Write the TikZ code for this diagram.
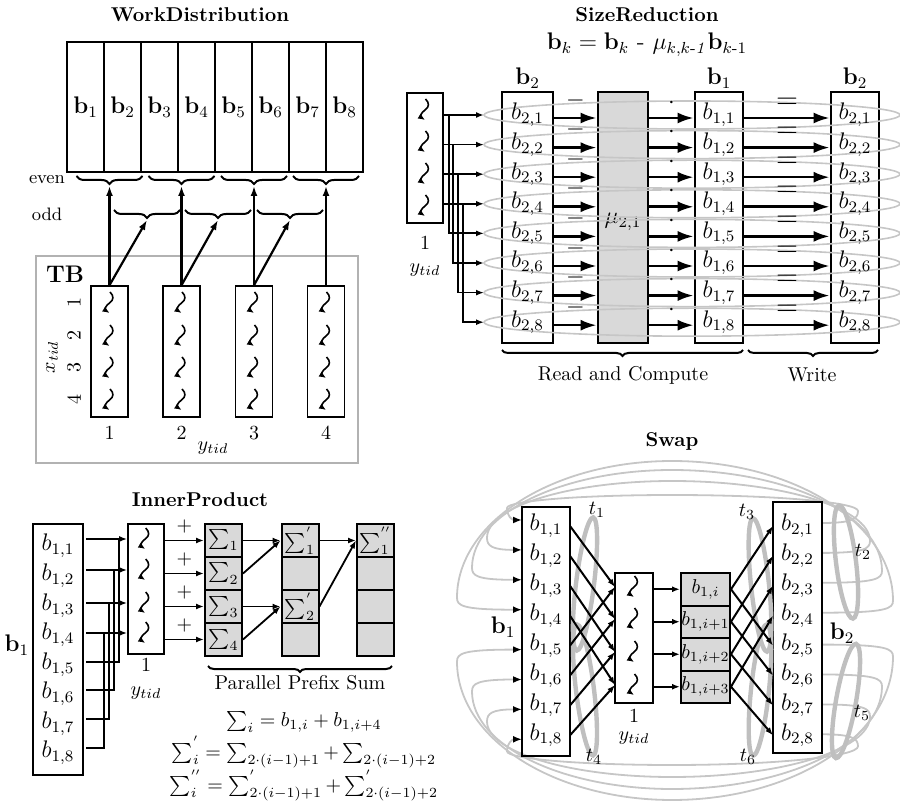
\documentclass[tikz,border=0pt]{standalone}
\usepackage{amsmath}
\usetikzlibrary{arrows.meta,decorations.pathreplacing,calc}
\tikzset{
  box/.style={draw,line width=0.8pt,inner sep=0pt},
  column/.style={draw,line width=1.4pt,inner sep=0pt},
  cell/.style={draw,line width=1pt,fill=gray!30,inner sep=0pt},
  ttl/.style={font=\bfseries},
  sarrow/.style={-{Latex[length=4pt,width=3pt]},line width=0.9pt},
  warrow/.style={-{Latex[length=5pt,width=3.5pt]},line width=1.1pt},
  barrow/.style={-{Latex[length=8pt,width=5.5pt]},line width=1.3pt},
  loopline/.style={gray!45,line width=0.9pt,-{Latex[length=4.5pt,width=3.5pt,black]}},
  ring/.style={gray!50,line width=2.2pt},
  rowring/.style={gray!45,line width=0.8pt},
  brc/.style={decorate,decoration={brace,amplitude=4pt,mirror},line width=1pt},
  eqn/.style={inner sep=0pt},
  pics/thread/.style={code={\draw[-{Latex[length=3.5pt,width=3pt]},line width=0.8pt]
     (0.5,-11) .. controls (4.5,-7) and (4.5,-3) .. (0,0) .. controls (-4.5,3) and (-4.5,7) .. (0,10);}}
}
\begin{document}
\begin{tikzpicture}[x=0.5pt,y=-0.5pt,>=latex]
\useasboundingbox (0,0) rectangle (900,807);

% WorkDistribution
\node[ttl] (wdtitle) at (200,15) {WorkDistribution};
\foreach \i in {1,...,8}
  \node[box,line width=1pt,minimum width=18.5pt,minimum height=65pt,font=\large] (wb\i) at ({48.5+37*\i},107) {$\mathbf{b}_{\i}$};
\node[font=\small] (even) at (47,180) {even};
\node[font=\small] (odd) at (47,214) {odd};
\draw[gray!60,line width=1.2pt] (36,256) rectangle (358,463);
\node[font=\large\bfseries] (tb) at (65,274) {TB};
\foreach \i/\x in {1/109.5,2/181.5,3/254,4/326}{
  \node[box,minimum width=18.5pt,minimum height=65.5pt] (wt\i) at (\x,351.5) {};
  \foreach \y in {303,336,368,400} \pic at (\x,\y) {thread};
  \node (wn\i) at (\x,433) {\i};
  \draw[brc] ({\x-33},176) -- ({\x+33},176);
  \coordinate (ev\i) at (\x,186);
  \draw[warrow] (wt\i.north) -- (ev\i);
}
\foreach \i/\x in {1/147,2/218,3/290}{
  \draw[brc] ({\x-33},210) -- ({\x+33},210);
  \coordinate (od\i) at (\x,220);
  \draw[warrow] (wt\i.north) -- (od\i);
}
\node[rotate=90] (xtid) at (52,357) {$x_{tid}$};
\foreach \i/\y in {1/303,2/336,3/368,4/400} \node[rotate=90] (wx\i) at (74,\y) {\i};
\node (wytid) at (213,448) {$y_{tid}$};

% SizeReduction
\node[ttl] (srtitle) at (647,15) {SizeReduction};
\node[font=\large] (sreq) at (647,45) {$\mathbf{b}_k = \mathbf{b}_k$ - $\mu_{k,k\text{-}\mathit{1}}\mathbf{b}_{k\text{-}1}$};
\node[column,minimum width=25.5pt,minimum height=125.5pt] (srb2a) at (527.5,217.5) {};
\node[column,fill=gray!30,minimum width=25pt,minimum height=125.5pt] (srmu) at (623,217.5) {};
\node[column,minimum width=24pt,minimum height=125.5pt] (srb1) at (719,217.5) {};
\node[column,minimum width=24pt,minimum height=125.5pt] (srb2b) at (855,217.5) {};
\node[font=\large] (srla) at (527.5,78) {$\mathbf{b}_2$};
\node[font=\large] (srlb) at (719,78) {$\mathbf{b}_1$};
\node[font=\large] (srlc) at (855,78) {$\mathbf{b}_2$};
\node[font=\large] (srmul) at (623,222) {$\mu_{2,1}$};
\foreach \i in {1,...,8}{
  \pgfmathsetmacro\y{115+29.6*(\i-1)}
  \draw[rowring] (692,\y) ellipse [x radius=208,y radius=14];
  \node[font=\large] (sra\i) at (527.5,\y) {$b_{2,\i}$};
  \node[font=\large] (src\i) at (719,\y) {$b_{1,\i}$};
  \node[font=\large] (srd\i) at (855,\y) {$b_{2,\i}$};
  \coordinate (srr\i) at (0,{\y+3});
  \coordinate (sre\i) at (484,\y);
  \draw[barrow] (srb2a.east |- srr\i) -- node[above=1pt,font=\large] {$-$} (srmu.west |- srr\i);
  \draw[barrow] (srmu.east |- srr\i) -- node[above=1pt,font=\large] {$\cdot$} (srb1.west |- srr\i);
  \draw[barrow] (srb1.east |- srr\i) -- node[above=1pt,font=\Large] {$=$} (srb2b.west |- srr\i);
}
\node[box,minimum width=18pt,minimum height=65pt] (srthr) at (425,158) {};
\foreach \y in {110,142,174,206} \pic at (425,\y) {thread};
\node (srone) at (425,243) {1};
\node (srytid) at (425,270) {$y_{tid}$};
\foreach \i/\x in {1/449,2/453,3/458,4/463}{
  \pgfmathtruncatemacro\j{\i+4}
  \coordinate (srv\i) at (\x,0);
  \draw[sarrow] (srthr.east |- sre\i) -- (sre\i);
  \draw[sarrow] (srv\i |- sre\i) |- (sre\j);
}
\draw[brc,decoration={amplitude=3pt}] (502,350) -- (743,350);
\node (srread) at (623,375) {Read and Compute};
\draw[brc,decoration={amplitude=3pt}] (748,350) -- (878,350);
\node (srwrite) at (812,375) {Write};

% InnerProduct
\node[ttl] (iptitle) at (200,500) {InnerProduct};
\node[column,line width=1.2pt,minimum width=25pt,minimum height=125.5pt] (ipb1) at (58,649.5) {};
\node[font=\large] (ipb) at (17,645) {$\mathbf{b}_1$};
\foreach \i/\t/\l in {1/546/539,2/576/570,3/606/603,4/635/633,5/665/662,6/694/690,7/724/719,8/753/748}{
  \node[font=\large] (ipr\i) at (58,\t) {$b_{1,\i}$};
  \coordinate (ipl\i) at (86,\l);
}
\node[box,minimum width=18pt,minimum height=65pt] (ipthr) at (146,589) {};
\node (ipone) at (146,665) {1};
\node (ipytid) at (146,693) {$y_{tid}$};
\foreach \c/\x in {1/223.5,2/300,3/375.5}
  \foreach \r/\y in {1/540.5,2/573.5,3/606.5,4/639.5}
    \node[cell,minimum width=18.5pt,minimum height=16.5pt] (p\c\r) at (\x,\y) {};
\foreach \i in {1,...,4}{
  \draw[sarrow,line width=1pt] (ipl\i) -- (ipthr.west |- ipl\i);
  \path (ipl\i) -- (ipthr.west |- ipl\i) coordinate[pos=1] (ipt\i);
  \pic at ($(ipt\i)+(18,0)$) {thread};
  \draw[sarrow] (ipthr.east |- p1\i.west) -- node[above=0pt] {$+$} (p1\i.west);
  \node (s1\i) at (p1\i) {$\sum_\i$};
}
\foreach \i/\x in {5/119,6/114,7/109,8/104}{
  \pgfmathtruncatemacro\j{\i-4}
  \coordinate (ipv\i) at (\x,0);
  \draw[line width=1pt] (ipl\i) -| (ipv\i |- ipl\j);
}
\node (s21) at (p21) {$\sum^{'}_1$};
\node (s23) at (p23) {$\sum^{'}_2$};
\node (s31) at (p31) {$\sum^{''}_1$};
\draw[sarrow] (p11.east) -- (p21.west);
\draw[sarrow] (p12.east) -- (p21.west);
\draw[sarrow] (p13.east) -- (p23.west);
\draw[sarrow] (p14.east) -- (p23.west);
\draw[sarrow] (p21.east) -- (p31.west);
\draw[sarrow] (p23.east) -- (p31.west);
\draw[brc,decoration={amplitude=3pt}] (208,666) -- (392,666);
\node[eqn] (pps) at (300,683) {Parallel Prefix Sum};
\node[eqn,align=center] (eqs) at (304,756) {$\sum_i = b_{1,i} + b_{1,i+4}$\\[1pt]
  $\sum^{'}_i = \sum_{2\cdot(i-1)+1} + \sum_{2\cdot(i-1)+2}$\\[0pt]
  $\sum^{''}_i = \sum^{'}_{2\cdot(i-1)+1} + \sum^{'}_{2\cdot(i-1)+2}$};

% Swap
\node[ttl] (swtitle) at (672,441) {Swap};
\foreach \i/\H/\R/\L in {1/495/858/507,2/481/870/487,3/470/882/472,4/461/893/457}{
  \pgfmathsetmacro\e{526+29.9*(\i-1)-3}
  \pgfmathsetmacro\f{526+29.9*(\i-1)-6}
  \draw[loopline] (822,\e) .. controls ({\R-6},\e) and (\R,{\e-4}) .. (\R,{\e-12})
     .. controls (\R,{\e-12-0.552*(\e-12-\H)}) and ({672+0.552*(\R-672)},\H) .. (672,\H)
     .. controls ({672-0.552*(672-\L)},\H) and (\L,{\f-12-0.552*(\f-12-\H)}) .. (\L,{\f-12})
     .. controls (\L,{\f-4}) and ({\L+5},\f) .. (522,\f);
}
\foreach \i/\B/\R/\L in {8/765/858/507,7/777/870/487,6/789/882/472,5/800/893/457}{
  \pgfmathsetmacro\e{526+29.9*(\i-1)-1}
  \pgfmathsetmacro\f{526+29.9*(\i-1)+4}
  \draw[loopline] (822,\e) .. controls ({\R-6},\e) and (\R,{\e+4}) .. (\R,{\e+12})
     .. controls (\R,{\e+12+0.552*(\B-\e-12)}) and ({672+0.552*(\R-672)},\B) .. (672,\B)
     .. controls ({672-0.552*(672-\L)},\B) and (\L,{\f+12+0.552*(\B-\f-12)}) .. (\L,{\f+12})
     .. controls (\L,{\f+4}) and ({\L+5},\f) .. (522,\f);
}
\node[column,line width=1.2pt,minimum width=24pt,minimum height=124.5pt] (swb1) at (546,631.5) {};
\node[column,line width=1.2pt,minimum width=24.5pt,minimum height=125.5pt] (swb2) at (797.5,627.5) {};
\node[font=\large] (swlb1) at (503,627) {$\mathbf{b}_1$};
\node[font=\large] (swlb2) at (842,633) {$\mathbf{b}_2$};
\draw[ring,rotate around={-7:(585,584)}] (585,584) ellipse [x radius=9,y radius=67];
\draw[ring,rotate around={7:(585,690)}] (585,690) ellipse [x radius=9,y radius=66];
\draw[ring,rotate around={6:(760,585)}] (760,585) ellipse [x radius=9,y radius=67];
\draw[ring,rotate around={-6:(760,690)}] (760,690) ellipse [x radius=9,y radius=66];
\draw[ring,rotate around={7:(846,562)}] (846,562) ellipse [x radius=10,y radius=57];
\draw[ring,rotate around={-10:(846,701)}] (846,701) ellipse [x radius=10,y radius=58];
\node (t1) at (597,510) {$t_1$};
\node (t3) at (747,512) {$t_3$};
\node (t2) at (863,552) {$t_2$};
\node (t4) at (594,757) {$t_4$};
\node (t6) at (748,757) {$t_6$};
\node (t5) at (862,713) {$t_5$};
\foreach \i in {1,...,8}{
  \pgfmathsetmacro\y{526+29.9*(\i-1)}
  \node[font=\large] (swl\i) at (546,\y) {$b_{1,\i}$};
  \node[font=\large] (swr\i) at (797.5,\y) {$b_{2,\i}$};
  \coordinate (swa\i) at (570,\y);
  \coordinate (swc\i) at (773,\y);
}
\node[box,minimum width=19pt,minimum height=65pt] (swthr) at (634,638) {};
\node (swone) at (634,716) {1};
\node (swytid) at (634,738) {$y_{tid}$};
\foreach \k/\t/\y/\s in {1/587/589.25/{$b_{1,i}$},2/619/621.75/{$b_{1,i+1}$},3/652/654.25/{$b_{1,i+2}$},4/685/686.75/{$b_{1,i+3}$}}{
  \pic at (634,\t) {thread};
  \coordinate (swt\k) at (615,\t);
  \node[cell,minimum width=24.5pt,minimum height=16.25pt] (swk\k) at (705.5,\y) {\s};
  \draw[sarrow] (swthr.east |- swk\k.west) -- (swk\k.west);
}
\foreach \k in {1,...,4}{
  \pgfmathtruncatemacro\j{\k+4}
  \draw[sarrow,line width=1pt] (swa\k) -- (swt\k);
  \draw[sarrow,line width=1pt] (swa\j) -- (swt\k);
  \draw[sarrow,line width=1pt] (swk\k.east) -- (swc\k);
  \draw[sarrow,line width=1pt] (swk\k.east) -- (swc\j);
}
\end{tikzpicture}
\end{document}
